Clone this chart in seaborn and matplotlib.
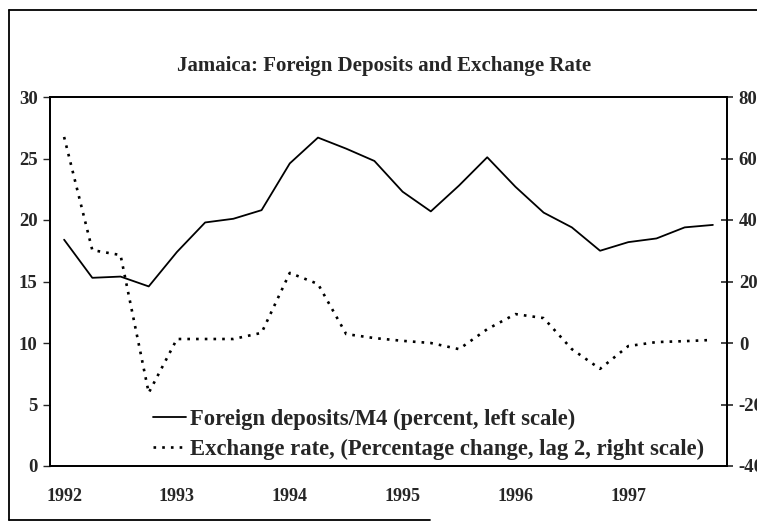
import numpy as np
import pandas as pd
import matplotlib
matplotlib.use("Agg")
import matplotlib.pyplot as plt
import seaborn as sns
from matplotlib.lines import Line2D

# ---- data (quarterly, 1992Q1 .. 1997Q4) ----
quarters = ["1992Q1", "1992Q2", "1992Q3", "1992Q4",
            "1993Q1", "1993Q2", "1993Q3", "1993Q4",
            "1994Q1", "1994Q2", "1994Q3", "1994Q4",
            "1995Q1", "1995Q2", "1995Q3", "1995Q4",
            "1996Q1", "1996Q2", "1996Q3", "1996Q4",
            "1997Q1", "1997Q2", "1997Q3", "1997Q4"]
year_labels = ["1992", "1993", "1994", "1995", "1996", "1997"]
deposits = [18.4, 15.3, 15.4, 14.6, 17.4, 19.8, 20.1, 20.8,
            24.6, 26.7, 25.8, 24.8, 22.3, 20.7, 22.8, 25.1,
            22.7, 20.6, 19.4, 17.5, 18.2, 18.5, 19.4, 19.6]
exchange = [67.0, 30.2, 28.6, -16.2, 1.3, 1.3, 1.3, 3.3,
            22.8, 19.2, 2.9, 1.6, 0.7, 0.0, -2.0, 4.5,
            9.4, 8.1, -2.0, -8.4, -1.0, 0.3, 0.6, 1.0]
left_ticks = [0, 5, 10, 15, 20, 25, 30]
right_ticks = [-40, -20, 0, 20, 40, 60, 80]

title = "Jamaica: Foreign Deposits and Exchange Rate"
label_dep = "Foreign deposits/M4 (percent, left scale)"
label_exc = "Exchange rate, (Percentage change, lag 2, right scale)"

df = pd.DataFrame({"quarter": quarters,
                   "pos": np.arange(len(quarters)),
                   "deposits": deposits,
                   "exchange": exchange})

sns.set_style("white")
plt.rcParams["font.family"] = ["Liberation Serif", "DejaVu Serif"]
plt.rcParams["font.weight"] = "bold"

W, H = 757, 525
fig = plt.figure(figsize=(W / 100, H / 100), dpi=100)
ax = fig.add_axes([50 / W, 1 - 466 / H, (727 - 50) / W, (466 - 97) / H])

sns.lineplot(data=df, x="pos", y="deposits", ax=ax, color="black", lw=1.3)
ax2 = ax.twinx()
sns.lineplot(data=df, x="pos", y="exchange", ax=ax2, color="black",
             lw=1.9, linestyle=(0, (1, 2.3)))

ax.set_xlim(-0.5, len(quarters) - 0.5)
ax.set_ylim(0, 30)
ax2.set_ylim(-40, 80)

# x ticks: quarter boundaries (marks) and year labels (no marks)
ax.set_xticks(np.arange(-0.5, len(quarters), 1))
ax.set_xticklabels([])
ax.set_xticks(np.arange(0, len(quarters), 4), minor=True)
ax.set_xticklabels(year_labels, minor=True, fontsize=13, fontweight="bold")
ax.tick_params(axis="x", which="major", direction="inout", length=6, width=1)
ax.tick_params(axis="x", which="minor", length=0, pad=16)

ax.set_yticks(left_ticks)
ax.set_yticklabels([str(t) for t in left_ticks], fontsize=13.5, fontweight="bold")
ax.tick_params(axis="y", direction="out", length=5, width=1, pad=4, left=True)

ax2.set_yticks(right_ticks)
ax2.set_yticklabels([str(t) for t in right_ticks], fontsize=13.5, fontweight="bold")
ax2.tick_params(axis="y", direction="inout", length=9, width=1.2, pad=4, right=True)

for a in (ax, ax2):
    a.set_xlabel("")
    a.set_ylabel("")
    for s in a.spines.values():
        s.set_color("black")
        s.set_linewidth(1.3)
        s.set_visible(True)

fig.text(384 / W, 1 - 66 / H, title, ha="center", va="center",
         fontsize=15, fontweight="bold")

handles = [Line2D([], [], color="black", lw=1.3),
           Line2D([], [], color="black", lw=1.9, linestyle=(0, (1, 2.3)))]
fig.legend(handles, [label_dep, label_exc], loc="upper left",
           bbox_to_anchor=(153 / W, 1 - 409 / H), frameon=False,
           borderpad=0, borderaxespad=0, handlelength=1.45,
           handletextpad=0.2, labelspacing=0.38,
           prop={"family": "Liberation Serif", "weight": "bold", "size": 16.3})

# outer frame of the figure
fig.add_artist(Line2D([9 / W, 9 / W], [1 - 10 / H, 1 - 520 / H],
                      transform=fig.transFigure, color="black", lw=1.3))
fig.add_artist(Line2D([9 / W, 1.0], [1 - 10 / H, 1 - 10 / H],
                      transform=fig.transFigure, color="black", lw=1.3))
fig.add_artist(Line2D([9 / W, 430 / W], [1 - 520 / H, 1 - 520 / H],
                      transform=fig.transFigure, color="black", lw=1.3))

fig.savefig("out.png", dpi=100, facecolor="white")
